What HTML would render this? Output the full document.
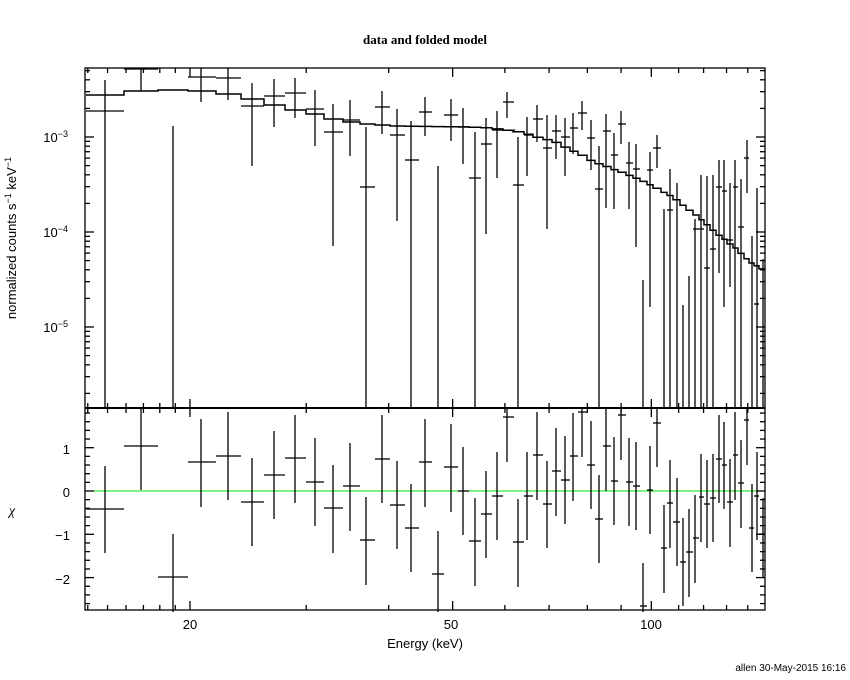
<!DOCTYPE html>
<html><head><meta charset="utf-8"><style>
body{margin:0;background:#fff;}
svg{display:block;font-family:"Liberation Sans",sans-serif;}
</style></head><body>
<svg id="s" width="850" height="680" xmlns="http://www.w3.org/2000/svg">
<rect width="850" height="680" fill="#fff"/>
<text x="425" y="44" font-size="13" text-anchor="middle" font-family="Liberation Serif,serif" font-weight="bold">data and folded model</text>
<text transform="translate(16,238) rotate(-90)" font-size="13" text-anchor="middle">normalized counts s<tspan baseline-shift="super" font-size="9">−1</tspan> keV<tspan baseline-shift="super" font-size="9">−1</tspan></text>
<text x="12" y="515" font-size="14" text-anchor="middle" font-family="Liberation Serif,serif" font-style="italic">χ</text>
<text x="425" y="648" font-size="13" text-anchor="middle">Energy (keV)</text>
<text x="846" y="671" font-size="10" text-anchor="end">allen 30-May-2015 16:16</text>
<g font-size="13" text-anchor="middle">
<text x="190" y="629">20</text><text x="451" y="629">50</text><text x="651" y="629">100</text>
<text x="70" y="454" text-anchor="end">1</text><text x="70" y="497" text-anchor="end">0</text>
<text x="70" y="540" text-anchor="end">−1</text><text x="70" y="584" text-anchor="end">−2</text>
<text x="68" y="142" text-anchor="end">10<tspan baseline-shift="super" font-size="9">−3</tspan></text>
<text x="68" y="237" text-anchor="end">10<tspan baseline-shift="super" font-size="9">−4</tspan></text>
<text x="68" y="332" text-anchor="end">10<tspan baseline-shift="super" font-size="9">−5</tspan></text>
</g>
<g id="g"></g>
</svg>
<script>
var g=document.getElementById('g'),o='';
function L(a,b,c,d,w,col){o+='<line x1="'+a+'" y1="'+b+'" x2="'+c+'" y2="'+d+'" stroke="'+(col||'#000')+'" stroke-width="'+(w||1.3)+'"/>';}
var X0=85,X1=765,T0=68,T1=408,B1=610;
function xp(E){return 190+660*Math.log10(E/20);}
// zero line
L(X0,491,X1,491,1,'#00e000');
// x ticks
for(var E=14;E<=150;E++){var d=E<20?1:(E<100?10:10);if(E%d)continue;var x=xp(E);if(x<X0||x>X1)continue;var maj=(E==20||E==50||E==100);var h=maj?9:5;
L(x,T0,x,T0+h);L(x,T1,x,T1-h);L(x,T1,x,T1+h);L(x,B1,x,B1-h);}
// top y ticks
for(var n=-6;n<=-3;n++)for(var m=1;m<=9;m++){var v=m*Math.pow(10,n);var y=137-95*Math.log10(v/1e-3);if(y<T0||y>T1)continue;var h=m==1?9:5;L(X0,y,X0+h,y);L(X1,y,X1-h,y);}
// bottom ticks
for(var k=-13;k<=9;k++){var v=k*0.2;var y=491-43.3*v;if(y<T1||y>B1)continue;var h=(k%5==0)?9:5;L(X0,y,X0+h,y);L(X1,y,X1-h,y);}
// chi data [xc,y,x0,x1,e0,e1]
var C=[[105,509,86,124,466,553],[141,446,124,158,408,490],[173,577,158,188,534,612],[201,462,188,216,419,507],[228,456,216,241,412,500],[252,502,241,264,458,546],[274,475,264,285,431,519],[295,458,285,306,415,503],[315,482,306,324,438,526],[333,508,324,343,465,553],[350,486,343,360,443,531],[366,540,360,375,497,585],[382,459,375,390,415,503],[397,505,390,405,461,549],[411,528,405,419,484,572],[425,462,419,432,419,507],[438,574,432,444,531,612],[451,467,444,458,424,512],[463,491,458,469,447,535],[475,541,469,481,498,586],[486,514,481,492,471,558],[497,496,492,503,452,540],[507,417,503,514,408,462],[518,542,513,524,499,587],[527,496,524,533,452,540],[537,455,533,543,412,500],[547,504,543,552,461,548],[556,471,552,561,428,516],[565,480,561,570,436,524],[573,456,570,578,413,501],[582,412,578,587,408,457],[591,465,587,595,421,509],[599,519,595,603,475,563],[606,446,603,611,408,491],[614,481,611,618,437,525],[621,415,618,626,408,460],[629,482,626,633,438,526],[636,486,633,640,442,530],[643,606,640,647,563,612],[650,490,647,653,446,534],[657,423,653,661,408,467],[664,548,661,667,505,593],[670,503,667,673,460,548],[677,522,673,680,478,566],[683,562,680,686,518,606],[689,552,686,693,509,597],[695,538,693,699,495,583],[701,497,699,704,454,542],[707,504,704,710,460,548],[713,498,710,716,454,542],[719,459,716,722,415,503],[724,465,722,727,422,509],[730,502,727,733,459,547],[735,455,733,738,412,500],[741,483,738,744,440,528],[747,420,744,749,408,465],[752,528,749,754,484,572],[757,496,754,759,452,540],[763,534,759,765,498,578]];
// top data [y,e0,e1]
var D=[[111,80,408],[69,68,91],[420,126,408],[77,68,102],[78,68,100],[106,83,166],[96,79,127],[93,78,118],[109,90,146],[132,104,246],[120,100,156],[187,127,408],[107,91,134],[135,109,221],[160,121,408],[112,97,136],[420,166,408],[115,99,141],[127,108,164],[178,132,408],[144,118,234],[130,111,178],[102,92,118],[185,137,408],[135,117,176],[119,105,142],[148,115,229],[131,115,159],[137,118,176],[128,113,154],[113,101,130],[138,120,170],[189,146,408],[131,114,208],[155,133,209],[124,111,144],[163,142,209],[169,144,247],[420,280,408],[170,152,307],[148,135,168],[420,209,408],[210,169,408],[420,183,408],[420,305,408],[420,276,408],[229,219,408],[229,175,408],[268,176,408],[249,175,408],[187,160,273],[191,160,307],[240,183,287],[187,160,408],[227,179,408],[158,140,193],[420,236,408],[304,188,408],[420,259,408]];
var M=[[85,95],[124,95],[141,91],[173,90],[201,91],[228,94],[252,99],[274,105],[295,110],[315,114],[333,119],[350,122],[366,124],[382,125],[397,126],[470,127],[490,128],[505,130],[520,132],[532,136],[545,139],[558,143],[570,150],[580,154],[590,160],[602,165],[615,170],[628,175],[640,180],[655,187],[665,193],[675,198],[685,207],[695,215],[705,223],[715,232],[725,240],[735,248],[745,257],[752,263],[765,270]];
function my(x){for(var i=1;i<M.length;i++)if(x<=M[i][0]){var a=M[i-1],b=M[i];return a[1]+(b[1]-a[1])*(x-a[0])/(b[0]-a[0]);}return 270;}
var p='',first=true;
for(var i=0;i<C.length;i++){var c=C[i],d=D[i];
L(c[2],c[1],c[3],c[1]);L(c[0],c[4],c[0],c[5]);
if(d[0]<=T1)L(c[2],d[0],c[3],d[0]);L(c[0],Math.max(T0,d[1]),c[0],d[2]);
var y=my(c[0]).toFixed(1);p+=(first?'M':'L')+c[2]+' '+y+' L'+c[3]+' '+y+' ';first=false;}
o+='<path d="'+p+'" fill="none" stroke="#000" stroke-width="1.5"/>';
o+='<rect x="85" y="68" width="680" height="542" fill="none" stroke="#000" stroke-width="1.3"/>';
L(X0,T1,X1,T1,2);
g.innerHTML=o;
</script>
</body></html>
